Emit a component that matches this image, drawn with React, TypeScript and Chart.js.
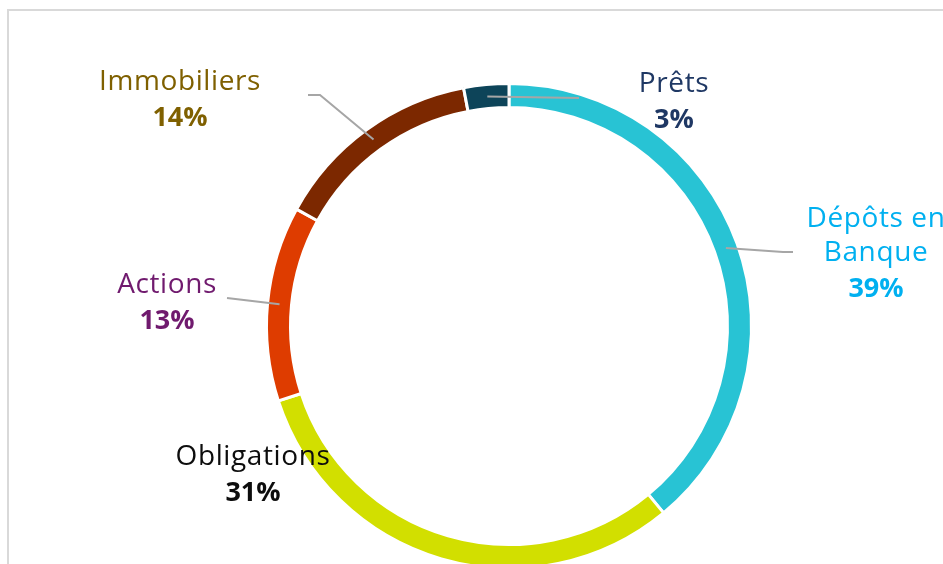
import React, { useEffect, useRef } from "react";
import { Chart, registerables } from "chart.js";

Chart.register(...registerables);

// ---- Data ----
const categories = ["Dépôts en Banque", "Obligations", "Actions", "Immobiliers", "Prêts"];
const values = [39, 31, 13, 14, 3];
const sliceColors = ["#28C3D4", "#D2DF00", "#DE3C00", "#7C2800", "#0D4459"];
const labelColors = ["#00B0F0", "#0D0D0D", "#701A6E", "#7F6000", "#1F3864"];
const labelLines = [["Dépôts en", "Banque"], ["Obligations"], ["Actions"], ["Immobiliers"], ["Prêts"]];

// ---- Label layout (positions of annotation text and leader elbows) ----
const labelLayout: { x: number; y: number; leader: number[][] | null }[] = [
  { x: 876, y: 227, leader: [[783, 252], [793, 252]] },
  { x: 253, y: 465, leader: null },
  { x: 167, y: 293, leader: [[227, 298]] },
  { x: 180, y: 90, leader: [[320, 95], [308, 95]] },
  { x: 674, y: 92, leader: [[579, 98]] },
];

const FONT = "'Open Sans', Lato, sans-serif";
const LINE_H = 36;

const labelPlugin = {
  id: "outerLabels",
  afterDraw(chart: any) {
    const ctx = chart.ctx;
    const meta = chart.getDatasetMeta(0);
    const total = values.reduce((a, b) => a + b, 0);
    ctx.save();
    // leader lines
    meta.data.forEach((arc: any, i: number) => {
      const lay = labelLayout[i];
      if (!lay.leader) return;
      const p = arc.getCenterPoint();
      ctx.beginPath();
      ctx.moveTo(p.x, p.y);
      lay.leader.forEach((pt) => ctx.lineTo(pt[0], pt[1]));
      ctx.strokeStyle = "#A6A6A6";
      ctx.lineWidth = 2;
      ctx.stroke();
    });
    // text
    ctx.textAlign = "center";
    ctx.textBaseline = "alphabetic";
    meta.data.forEach((_arc: any, i: number) => {
      const lay = labelLayout[i];
      ctx.fillStyle = labelColors[i];
      let y = lay.y;
      ctx.font = `400 28px ${FONT}`;
      (ctx as any).letterSpacing = "0.6px";
      labelLines[i].forEach((line) => {
        ctx.fillText(line, lay.x, y);
        y += LINE_H - 2;
      });
      y += 2;
      (ctx as any).letterSpacing = "0px";
      ctx.font = `700 27px ${FONT}`;
      ctx.fillText(Math.round((values[i] / total) * 100) + "%", lay.x, y);
    });
    ctx.restore();
  },
};

export default function App() {
  const ref = useRef<HTMLCanvasElement | null>(null);

  useEffect(() => {
    if (!ref.current) return;
    const chart = new Chart(ref.current, {
      type: "doughnut",
      data: {
        labels: categories,
        datasets: [
          {
            data: values,
            backgroundColor: sliceColors,
            borderColor: "#FFFFFF",
            borderWidth: 3,
          },
        ],
      },
      options: {
        responsive: false,
        animation: false,
        cutout: "90.1%",
        layout: { padding: { left: 265, right: 190, top: 82, bottom: 30 } },
        plugins: {
          legend: { display: false },
          tooltip: { enabled: false },
        },
      },
      plugins: [labelPlugin],
    });
    return () => chart.destroy();
  }, []);

  return (
    <div
      style={{
        position: "fixed",
        left: 0,
        top: 0,
        width: 943,
        height: 564,
        overflow: "hidden",
        background: "#FFFFFF",
      }}
    >
      <div
        style={{
          position: "absolute",
          left: 7,
          top: 9,
          width: 1100,
          height: 800,
          borderLeft: "2px solid #D9D9D9",
          borderTop: "2px solid #D9D9D9",
        }}
      />
      <canvas
        ref={ref}
        width={943}
        height={600}
        style={{ position: "absolute", left: 0, top: 0, width: 943, height: 600 }}
      />
    </div>
  );
}
